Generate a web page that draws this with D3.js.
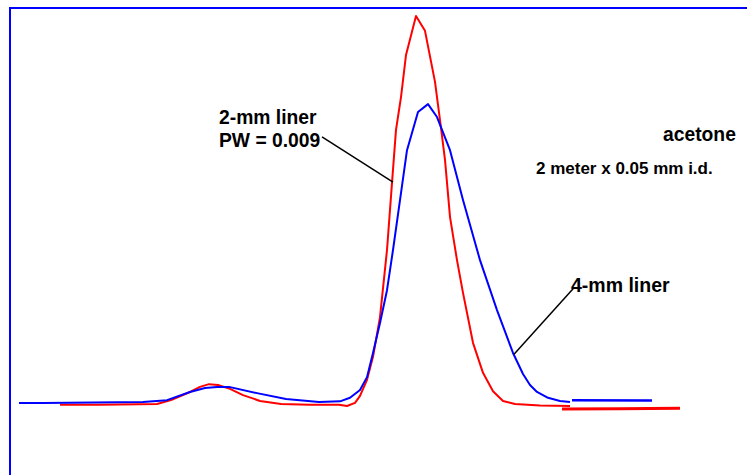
<!DOCTYPE html>
<html>
<head>
<meta charset="utf-8">
<script src="https://cdn.jsdelivr.net/npm/d3@7"></script>
<style>
  body { margin: 0; background: #fff; }
  .label { font-family: "Liberation Sans", Arial, sans-serif; font-weight: bold; fill: #000; }
</style>
</head>
<body>
<div id="chart"></div>
<script>
// chromatogram data: time (s) and response (% of 2-mm peak)
var time2mm = [0.42, 0.82, 1.39, 1.53, 1.72, 1.82, 1.91, 2.00, 2.12, 2.25, 2.42, 2.63, 2.92, 3.21, 3.29, 3.37, 3.42, 3.49, 3.55, 3.62, 3.69, 3.74, 3.78, 3.83, 3.88, 3.98, 4.07, 4.17, 4.23, 4.27, 4.32, 4.39, 4.45, 4.55, 4.65, 4.75, 4.85, 4.97, 5.22, 5.52];
var resp2mm = [0.3, 0.3, 0.5, 1.5, 3.6, 4.9, 5.6, 5.4, 4.4, 2.8, 1.3, 0.5, 0.3, 0.3, 0.0, 0.8, 2.6, 6.7, 12.6, 22.8, 40.0, 57.2, 70.8, 79.2, 90.0, 100, 96.2, 83.1, 71.3, 63.1, 48.5, 37.4, 29.0, 16.2, 8.5, 3.8, 1.3, 0.5, 0.1, 0.0];
var tailTime2mm = [5.44, 6.02, 6.62];
var tailResp2mm = [-0.8, -0.7, -0.6];

var time4mm = [0.01, 0.25, 1.25, 1.49, 1.72, 1.87, 1.99, 2.11, 2.39, 2.68, 3.01, 3.22, 3.32, 3.42, 3.49, 3.55, 3.62, 3.69, 3.75, 3.82, 3.89, 4.00, 4.10, 4.19, 4.32, 4.45, 4.62, 4.79, 4.95, 5.05, 5.12, 5.19, 5.30, 5.42, 5.52];
var resp4mm = [0.8, 0.8, 1.0, 1.5, 3.6, 4.6, 4.9, 4.9, 3.3, 1.8, 1.0, 1.2, 2.1, 4.1, 7.4, 13.6, 21.3, 29.7, 40.0, 52.8, 65.6, 75.4, 77.4, 74.1, 65.6, 52.8, 37.4, 24.6, 13.6, 8.2, 5.4, 3.6, 2.1, 1.3, 1.0];
var tailTime4mm = [5.54, 6.34];
var tailResp4mm = [1.5, 1.4];

// leader lines (from label to curve)
var leader2mm = [[3.04, 69.0], [3.75, 57.4]];
var leader4mm = [[5.56, 30.3], [4.96, 13.3]];

// set the dimensions of the graph
var svgWidth = 747;
var svgHeight = 475;

var svg = d3.select("#chart")
  .append("svg")
  .attr("width", svgWidth)
  .attr("height", svgHeight);

// frame
svg.append("rect")
  .attr("x", 10)
  .attr("y", 8)
  .attr("width", 800)
  .attr("height", 600)
  .attr("fill", "none")
  .attr("stroke", "#0000ff")
  .attr("stroke-width", 2);

var xScale = d3.scaleLinear()
  .domain([0, 6.62])
  .range([18, 680]);

var yScale = d3.scaleLinear()
  .domain([0, 100])
  .range([406, 16]);

function zipPts(t, r) {
  return t.map(function(d, i) { return [d, r[i]]; });
}

var line = d3.line()
  .x(d => xScale(d[0]))
  .y(d => yScale(d[1]));

// curves
var series = [
  { pts: zipPts(time2mm, resp2mm), color: "#ff0000", w: 2 },
  { pts: zipPts(tailTime2mm, tailResp2mm), color: "#ff0000", w: 3 },
  { pts: zipPts(time4mm, resp4mm), color: "#0000ff", w: 2 },
  { pts: zipPts(tailTime4mm, tailResp4mm), color: "#0000ff", w: 2.5 }
];

svg.selectAll("path.curve")
  .data(series)
  .enter()
  .append("path")
  .attr("class", "curve")
  .attr("d", d => line(d.pts))
  .attr("fill", "none")
  .attr("stroke", d => d.color)
  .attr("stroke-width", d => d.w)
  .attr("stroke-linejoin", "round");

// leader lines
svg.selectAll("path.leader")
  .data([leader2mm, leader4mm])
  .enter()
  .append("path")
  .attr("class", "leader")
  .attr("d", d => line(d))
  .attr("fill", "none")
  .attr("stroke", "#000")
  .attr("stroke-width", 1.5);

// labels
var labels = [
  { text: "2-mm liner", x: 219, y: 124, size: 19.3 },
  { text: "PW = 0.009", x: 219, y: 147, size: 19.3 },
  { text: "acetone", x: 663, y: 141, size: 19.3 },
  { text: "2 meter x 0.05 mm i.d.", x: 536, y: 174, size: 17 },
  { text: "4-mm liner", x: 571, y: 292, size: 19.5 }
];

svg.selectAll("text.label")
  .data(labels)
  .enter()
  .append("text")
  .attr("class", "label")
  .attr("x", d => d.x)
  .attr("y", d => d.y)
  .style("font-size", d => d.size + "px")
  .text(d => d.text);
</script>
</body>
</html>
